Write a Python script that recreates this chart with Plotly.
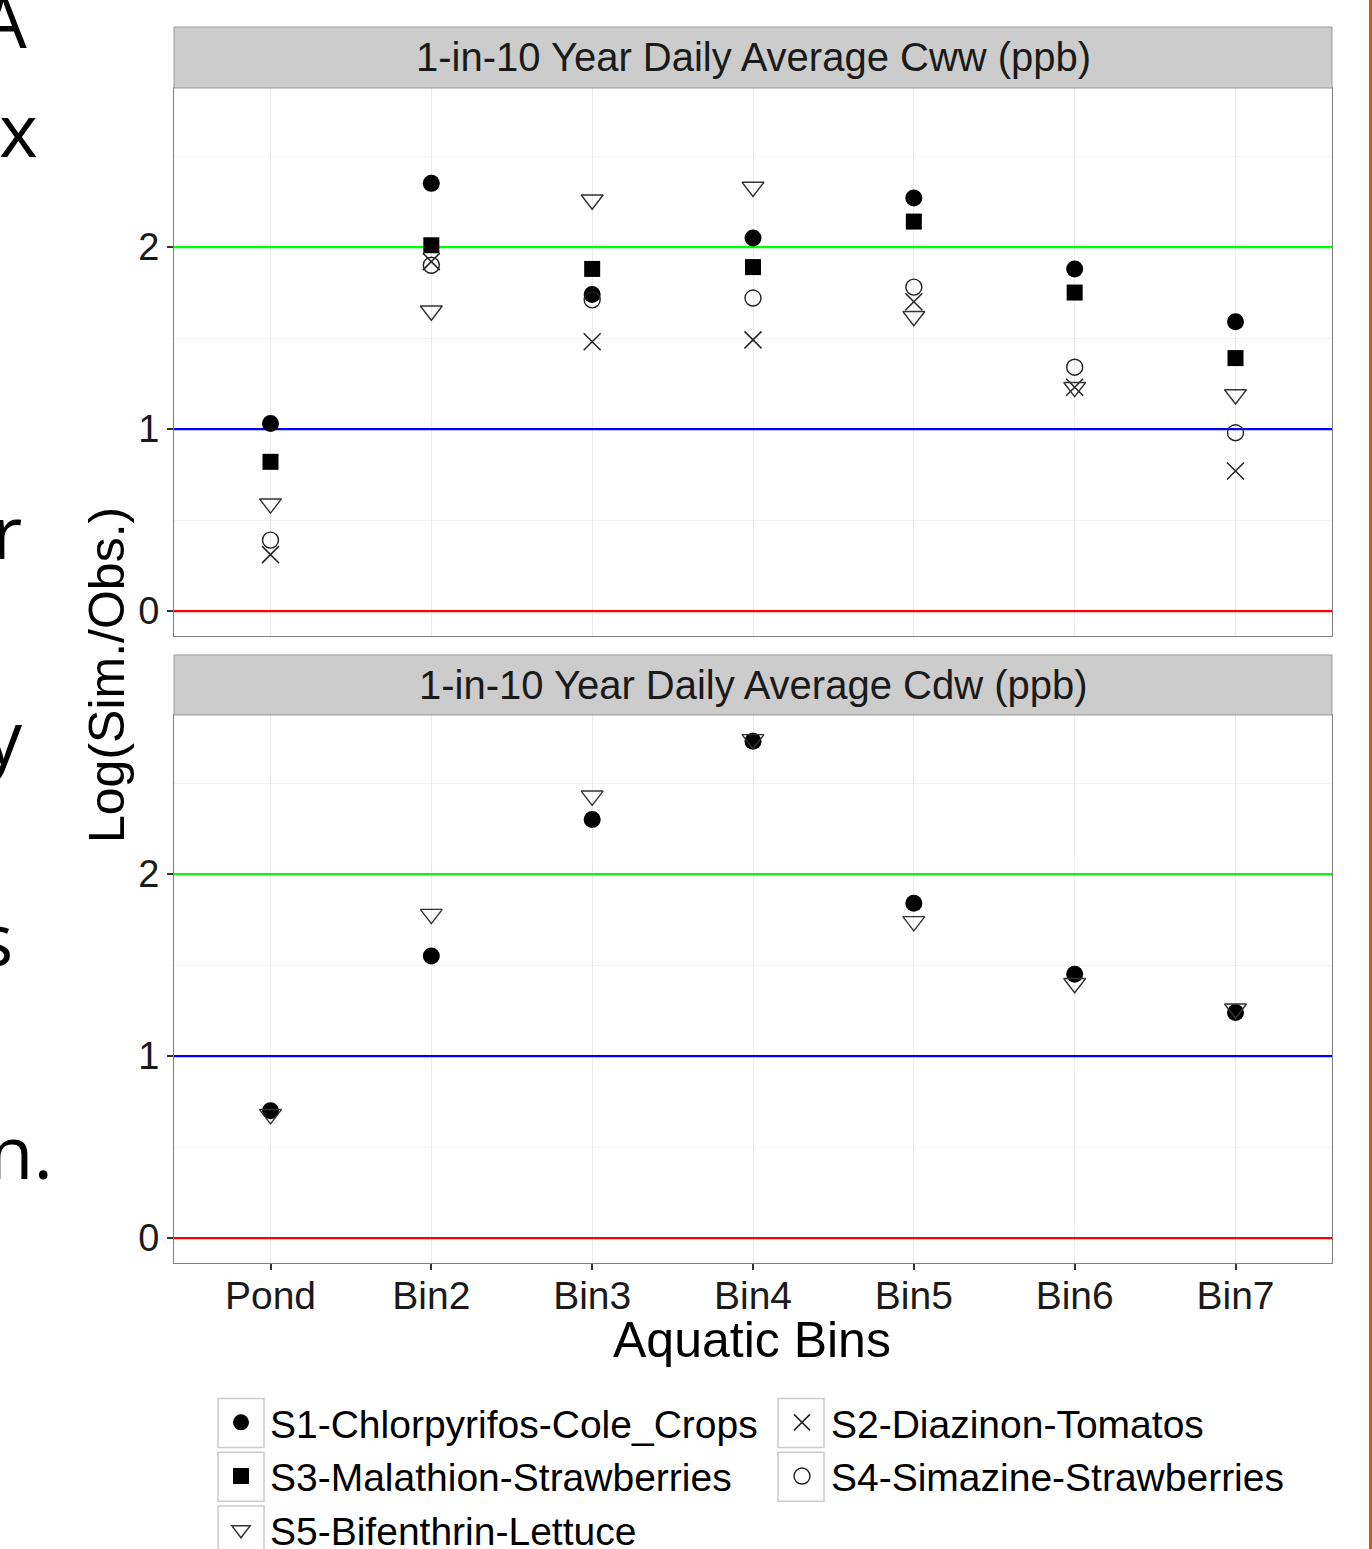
import plotly.graph_objects as go

# ---------------- data ----------------
bins = ["Pond", "Bin2", "Bin3", "Bin4", "Bin5", "Bin6", "Bin7"]
series_names = ["S1-Chlorpyrifos-Cole_Crops", "S2-Diazinon-Tomatos",
                "S3-Malathion-Strawberries", "S4-Simazine-Strawberries",
                "S5-Bifenthrin-Lettuce"]

cww_s1 = [1.03, 2.35, 1.74, 2.05, 2.27, 1.88, 1.59]
cww_s2 = [0.31, 1.92, 1.48, 1.49, 1.70, 1.23, 0.77]
cww_s3 = [0.82, 2.01, 1.88, 1.89, 2.14, 1.75, 1.39]
cww_s4 = [0.39, 1.90, 1.71, 1.72, 1.78, 1.34, 0.98]
cww_s5 = [0.59, 1.65, 2.26, 2.33, 1.62, 1.23, 1.19]

cdw_s1 = [0.70, 1.55, 2.30, 2.73, 1.84, 1.45, 1.24]
cdw_s5 = [0.68, 1.78, 2.43, 2.74, 1.74, 1.40, 1.26]

panel_titles = ["1-in-10 Year Daily Average Cww (ppb)", "1-in-10 Year Daily Average Cdw (ppb)"]
ref_levels = [0, 1, 2]
ref_colors = ["#FF0000", "#0000FF", "#00FF00"]
y_ticks = [0, 1, 2]

# ---------------- geometry helpers ----------------
W, H = 1372, 1549
ML, MR, MT, MB = 174, 40, 27, 286
PW = W - ML - MR
PH = H - MT - MB


def px(x):
    return (x - ML) / PW


def py(y):
    return (H - MB - y) / PH


FONT = "Liberation Sans, Arial, sans-serif"

styles = [
    dict(symbol="circle", size=17, color="black", line=dict(width=0, color="black")),
    dict(symbol="x-thin-open", size=17, color="#222", line=dict(width=1.5, color="#222")),
    dict(symbol="square", size=16, color="black", line=dict(width=0, color="black")),
    dict(symbol="circle-open", size=16, color="#222", line=dict(width=1.4, color="#222")),
    dict(symbol="triangle-down-open", size=19, color="#333", line=dict(width=1.4, color="#333")),
]

fig = go.Figure()
top_vals = [cww_s1, cww_s2, cww_s3, cww_s4, cww_s5]
for name, vals, st in zip(series_names, top_vals, styles):
    fig.add_trace(go.Scatter(x=bins, y=vals, mode="markers", name=name,
                             legendgroup=name, marker=st, xaxis="x", yaxis="y"))

bottom = {0: cdw_s1, 4: cdw_s5}
for i, vals in bottom.items():
    fig.add_trace(go.Scatter(x=bins, y=vals, mode="markers", name=series_names[i],
                             legendgroup=series_names[i], showlegend=False,
                             marker=styles[i], xaxis="x2", yaxis="y2"))

yr = [-0.137, 2.874]
xr_ = [-0.6, 6.6]
top_dom = [py(636), py(88)]
bot_dom = [0, py(715)]

axis_common = dict(showline=True, mirror=True, linecolor="#7F7F7F", linewidth=1,
                   zeroline=False)
xcommon = dict(type="category", categoryorder="array", categoryarray=bins,
               range=xr_, showgrid=True, gridcolor="#EBEBEB", gridwidth=1,
               **axis_common)
ycommon = dict(range=yr, tickvals=y_ticks, ticks="outside", ticklen=6, tickwidth=1.5,
               tickcolor="#333", tickfont=dict(size=38, color="#1a1a1a", family=FONT),
               showgrid=False,
               minor=dict(tickvals=[0.5, 1.5, 2.5], showgrid=True, gridcolor="#F4F4F4", ticks=""),
               **axis_common)

fig.update_layout(
    width=W, height=H,
    margin=dict(l=ML, r=MR, t=MT, b=MB, autoexpand=False),
    paper_bgcolor="white", plot_bgcolor="white",
    font=dict(family=FONT, color="black"),
    xaxis=dict(domain=[0, 1], anchor="y", showticklabels=False, ticks="", **xcommon),
    yaxis=dict(domain=top_dom, anchor="x", **ycommon),
    xaxis2=dict(domain=[0, 1], anchor="y2", showticklabels=True, ticks="outside",
                ticklen=6, tickwidth=1.5, tickcolor="#333", ticklabelstandoff=-8,
                tickfont=dict(size=39, color="#1a1a1a", family=FONT), **xcommon),
    yaxis2=dict(domain=bot_dom, anchor="x2", **ycommon),
    showlegend=True,
    legend=dict(orientation="h", x=px(212), xanchor="left", y=py(1390.5), yanchor="top",
                font=dict(size=39, family=FONT, color="black"), itemwidth=48,
                entrywidth=498, entrywidthmode="pixels", traceorder="normal",
                bgcolor="rgba(0,0,0,0)"),
)

shapes = []
# reference lines
for xref, yref in (("x", "y"), ("x2", "y2")):
    for lvl, col in zip(ref_levels, ref_colors):
        shapes.append(dict(type="line", xref=xref, yref=yref, x0=xr_[0], x1=xr_[1],
                           y0=lvl, y1=lvl, line=dict(color=col, width=2.2), layer="between"))
# strips
for (y0, y1) in ((27, 88), (655, 715)):
    shapes.append(dict(type="rect", xref="paper", yref="paper", x0=0, x1=1,
                       y0=py(y1), y1=py(y0), fillcolor="#CCCCCC",
                       line=dict(color="#9A9A9A", width=1)))
# legend key boxes
row_gap = 1.3 * 39 + 3
key_centers = [(241, 1423), (801, 1423), (241, 1423 + row_gap), (801, 1423 + row_gap),
               (241, 1423 + 2 * row_gap)]
for cx, cy in key_centers:
    shapes.append(dict(type="rect", xref="paper", yref="paper",
                       x0=px(cx - 23), x1=px(cx + 23), y0=py(cy + 24.5), y1=py(cy - 24.5),
                       fillcolor="rgba(0,0,0,0)", line=dict(color="#CCCCCC", width=1.5),
                       layer="below"))
# right-edge orange slide border
shapes.append(dict(type="line", xref="paper", yref="paper", x0=px(1370.5), x1=px(1370.5),
                   y0=py(H), y1=py(0), line=dict(color="#C0600F", width=3)))
fig.update_layout(shapes=shapes)

ann = []
ann.append(dict(text=panel_titles[0], xref="paper", yref="paper", x=0.5, y=py(57.5),
                showarrow=False, font=dict(size=40, color="#1a1a1a", family=FONT),
                xanchor="center", yanchor="middle"))
ann.append(dict(text=panel_titles[1], xref="paper", yref="paper", x=0.5, y=py(685),
                showarrow=False, font=dict(size=40, color="#1a1a1a", family=FONT),
                xanchor="center", yanchor="middle"))
ann.append(dict(text="Aquatic Bins", xref="paper", yref="paper", x=px(752), y=py(1340),
                showarrow=False, font=dict(size=50, color="black", family=FONT),
                xanchor="center", yanchor="middle"))
ann.append(dict(text="Log(Sim./Obs.)", xref="paper", yref="paper", x=px(107), y=py(675),
                showarrow=False, textangle=-90, font=dict(size=50, color="black", family=FONT),
                xanchor="center", yanchor="middle"))

# cut-off slide text on the left edge
slide_frags = [("A", 29, 19), ("x", 40, 128), ("r", 24, 530), ("y", 25, 735),
               ("s", 15, 937), ("n.", 55, 1150)]
for t, rx, cy in slide_frags:
    ann.append(dict(text=t, xref="paper", yref="paper", x=px(rx), y=py(cy),
                    showarrow=False, font=dict(size=74, color="black", family="Open Sans"),
                    xanchor="right", yanchor="middle"))
fig.update_layout(annotations=ann)

fig.write_html("out.html", config={"displayModeBar": False},
               post_script="document.body.style.margin='0px';")
